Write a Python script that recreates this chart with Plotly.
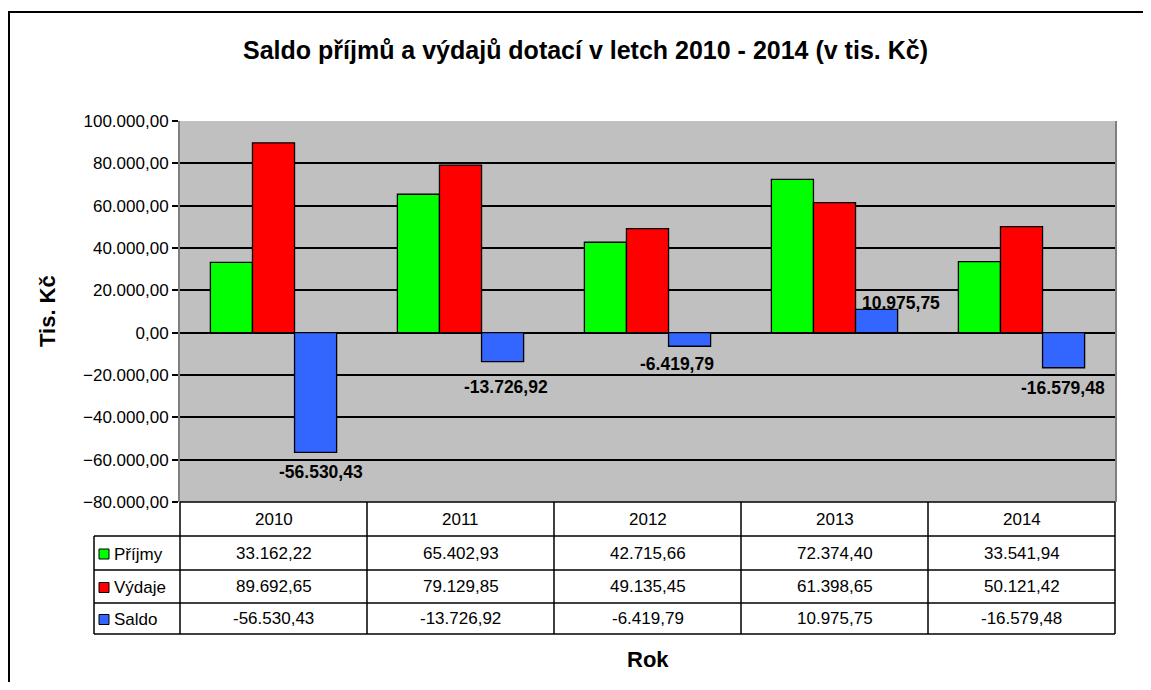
import plotly.graph_objects as go

years = ["2010", "2011", "2012", "2013", "2014"]
prijmy = [33162.22, 65402.93, 42715.66, 72374.40, 33541.94]
vydaje = [89692.65, 79129.85, 49135.45, 61398.65, 50121.42]
saldo = [-56530.43, -13726.92, -6419.79, 10975.75, -16579.48]
series_names = ["Příjmy", "Výdaje", "Saldo"]
title_text = "Saldo příjmů a výdajů dotací v letch 2010 - 2014 (v tis. Kč)"
y_title = "Tis. Kč"
x_title = "Rok"

colors = ["#00FF00", "#FF0000", "#3366FF"]
FONT = "Liberation Sans, Arial, sans-serif"

OFF = 8  # page body margin
W, H = 1151 - 2 * OFF, 690 - 2 * OFF
L, R, T, B = 180, 1115, 121, 502  # plot area in reference px


def px_x(p):
    return (p - L) / (R - L)


def px_y(p):
    return (B - p) / (B - T)


def fmt_cz(v):
    s = f"{v:,.2f}"
    return s.replace(",", "X").replace(".", ",").replace("X", ".")


xs = list(range(len(years)))
series = [prijmy, vydaje, saldo]
bw = 0.225
offsets = [-1.5 * bw, -0.5 * bw, 0.5 * bw]

fig = go.Figure()
for name, vals, col, off in zip(series_names, series, colors, offsets):
    fig.add_trace(go.Bar(
        x=xs, y=vals, name=name, width=bw, offset=off,
        marker=dict(color=col, line=dict(color="black", width=1.3)),
        showlegend=False,
    ))

annotations = []
shapes = []

# data labels for Saldo
lbl_shift = [(5, -20), (3, -25), (-13, -18), (24, 6), (-1, -20)]
for i, v in enumerate(saldo):
    dx, dy = lbl_shift[i]
    annotations.append(dict(
        x=i + offsets[2] + bw / 2, y=v, xref="x", yref="y",
        text="<b>" + fmt_cz(v) + "</b>", showarrow=False,
        xshift=dx, yshift=dy,
        font=dict(family=FONT, size=17.5, color="black"),
        xanchor="center", yanchor="middle",
    ))

# table geometry (reference px)
row_lines = [502, 536, 570, 603, 634]
col_lines = [180, 367, 554, 741, 928, 1115]
leg_left = 94

line_style = dict(color="black", width=1.5)
shapes.append(dict(type="line", xref="paper", yref="paper",
                   x0=px_x(L), x1=px_x(R), y0=px_y(row_lines[0]), y1=px_y(row_lines[0]), line=line_style))
for yy in row_lines[1:]:
    shapes.append(dict(type="line", xref="paper", yref="paper",
                       x0=px_x(leg_left), x1=px_x(R), y0=px_y(yy), y1=px_y(yy), line=line_style))
for xx in col_lines:
    shapes.append(dict(type="line", xref="paper", yref="paper",
                       x0=px_x(xx), x1=px_x(xx), y0=px_y(row_lines[0]), y1=px_y(row_lines[-1]), line=line_style))
shapes.append(dict(type="line", xref="paper", yref="paper",
                   x0=px_x(leg_left), x1=px_x(leg_left), y0=px_y(row_lines[1]), y1=px_y(row_lines[-1]), line=line_style))

TS = 17
hc = (row_lines[0] + row_lines[1]) / 2
for i, yr in enumerate(years):
    annotations.append(dict(x=i, y=px_y(hc), xref="x", yref="paper", text=yr, showarrow=False,
                            font=dict(family=FONT, size=TS, color="black"), xanchor="center", yanchor="middle"))
for r, (name, vals, col) in enumerate(zip(series_names, series, colors)):
    rc = (row_lines[r + 1] + row_lines[r + 2]) / 2
    for i, v in enumerate(vals):
        annotations.append(dict(x=i, y=px_y(rc), xref="x", yref="paper", text=fmt_cz(v), showarrow=False,
                                font=dict(family=FONT, size=TS, color="black"), xanchor="center", yanchor="middle"))
    shapes.append(dict(type="rect", xref="paper", yref="paper",
                       x0=px_x(99), x1=px_x(109), y0=px_y(rc - 4), y1=px_y(rc + 6),
                       fillcolor=col, line=dict(color="black", width=1)))
    annotations.append(dict(x=px_x(112), y=px_y(rc + 1), xref="paper", yref="paper", text=name, showarrow=False,
                            font=dict(family=FONT, size=TS, color="black"), xanchor="left", yanchor="middle"))

# titles
annotations.append(dict(x=px_x(585), y=px_y(50), xref="paper", yref="paper", text="<b>" + title_text + "</b>",
                        showarrow=False, font=dict(family=FONT, size=25, color="black"),
                        xanchor="center", yanchor="middle"))
annotations.append(dict(x=px_x(47), y=px_y(311), xref="paper", yref="paper", text="<b>" + y_title + "</b>",
                        showarrow=False, textangle=-90, font=dict(family=FONT, size=22, color="black"),
                        xanchor="center", yanchor="middle"))
annotations.append(dict(x=px_x(648), y=px_y(659), xref="paper", yref="paper", text="<b>" + x_title + "</b>",
                        showarrow=False, font=dict(family=FONT, size=22, color="black"),
                        xanchor="center", yanchor="middle"))

# outer border
shapes.append(dict(type="rect", xref="paper", yref="paper",
                   x0=px_x(9), x1=px_x(1200), y0=px_y(12), y1=px_y(760),
                   line=dict(color="black", width=2), layer="below"))

fig.update_layout(
    width=W, height=H,
    margin=dict(l=L - OFF, r=(W + OFF) - R, t=T - OFF, b=(H + OFF) - B, pad=0),
    paper_bgcolor="white", plot_bgcolor="#C0C0C0",
    separators=",.",
    font=dict(family=FONT, size=17, color="black"),
    barmode="overlay",
    xaxis=dict(range=[-0.5, len(years) - 0.5], showticklabels=False, showgrid=False, zeroline=False,
               showline=False, ticks=""),
    yaxis=dict(range=[-80000, 100000], dtick=20000, tickformat=",.2f", showgrid=True,
               gridcolor="black", gridwidth=1.5, zeroline=True, zerolinecolor="black", zerolinewidth=1.5,
               ticks="outside", ticklen=6, tickcolor="black", tickwidth=1.5,
               showline=True, linecolor="#7f7f7f", linewidth=2, mirror=True,
               tickfont=dict(family=FONT, size=17, color="black")),
    annotations=annotations, shapes=shapes,
)

fig.write_html("out.html")
